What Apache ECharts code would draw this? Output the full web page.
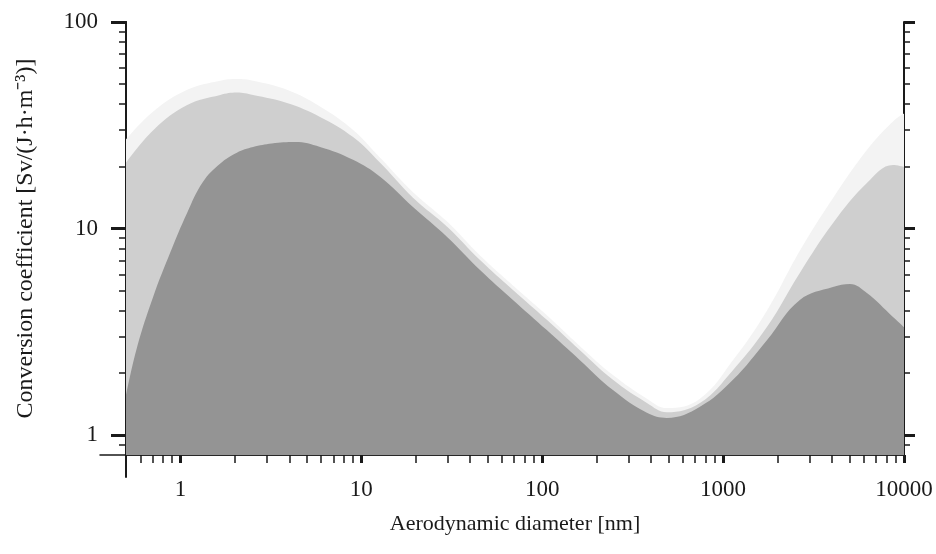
<!DOCTYPE html>
<html><head><meta charset="utf-8">
<script src="https://cdn.jsdelivr.net/npm/echarts@6.0.0/dist/echarts.min.js"></script>
<style>html,body{margin:0;padding:0;background:#fff}#c{width:936px;height:554px}</style>
</head><body><div id="c"></div>
<script>
// Faint halo above the light envelope
const haloDiameter = [0.5, 0.71, 1.09, 1.66, 2.05, 2.52, 3.88, 5.91, 9.0, 12.7, 19.3, 29.8, 45.3, 68.9, 106, 161, 246, 379, 489, 745, 1133, 1746, 2655, 4045, 6237, 8690, 10000];
const haloCoef     = [27, 37, 47, 52, 53, 52, 47, 39, 30, 22, 15, 10.8, 7.4, 5.3, 3.8, 2.7, 1.95, 1.5, 1.35, 1.5, 2.3, 4.0, 7.8, 14, 24, 33, 36];
// Light grey (upper) envelope
const upperDiameter = [0.5, 0.71, 1.09, 1.66, 2.05, 2.52, 3.88, 5.91, 9.0, 12.7, 19.3, 29.8, 45.3, 68.9, 106, 161, 246, 379, 489, 745, 1133, 1746, 2655, 4045, 6237, 8690, 10000];
const upperCoef     = [20.8, 30.0, 39.6, 44.3, 45.5, 44.3, 40.5, 34.7, 27.7, 20.8, 14.1, 10.2, 7.04, 5.04, 3.61, 2.58, 1.85, 1.43, 1.29, 1.43, 2.06, 3.33, 6.09, 10.6, 16.6, 20.3, 19.9];
// Dark grey (lower) envelope
const lowerDiameter = [0.5, 0.576, 0.706, 0.876, 1.088, 1.33, 1.655, 2.05, 2.52, 3.2, 4.3, 5.91, 9.0, 12.7, 19.3, 29.8, 45.3, 68.9, 106, 161, 246, 379, 489, 745, 1133, 1746, 2655, 4045, 5023, 6237, 8690, 10000];
const lowerCoef     = [1.56, 2.67, 4.66, 7.61, 11.9, 16.8, 20.6, 23.3, 24.8, 25.8, 26.2, 24.8, 21.5, 17.8, 12.7, 9.1, 6.30, 4.51, 3.22, 2.31, 1.65, 1.28, 1.21, 1.37, 1.85, 2.88, 4.51, 5.21, 5.39, 4.87, 3.73, 3.33];

const xMajorTicks = [1, 10, 100, 1000, 10000];
const xMinorTicks = [0.6, 0.7, 0.8, 0.9, 2, 3, 4, 5, 6, 7, 8, 9, 20, 30, 40, 50, 60, 70, 80, 90, 200, 300, 400, 500, 600, 700, 800, 900, 2000, 3000, 4000, 5000, 6000, 7000, 8000, 9000];
const yMajorTicks = [1, 10, 100];
const yMinorTicks = [0.9, 2, 3, 4, 5, 6, 7, 8, 9, 20, 30, 40, 50, 60, 70, 80, 90];

const xName = 'Aerodynamic diameter [nm]';
const yName = 'Conversion coefficient [Sv/(J·h·m⁻³)]';

const FONT = 'Liberation Serif';
const INK = '#1a1a1a';
const pairs = (xs, ys) => xs.map((x, i) => [x, ys[i]]);

const X_MIN = 0.5, X_MAX = 10000, Y_MIN = 0.8, Y_MAX = 100;

function baseX(extra) {
  return Object.assign({
    type: 'log', logBase: 10, min: X_MIN, max: X_MAX, gridIndex: 0, position: 'bottom',
    splitLine: { show: false }, minorTick: { show: false }, minorSplitLine: { show: false }
  }, extra);
}
function baseY(extra) {
  return Object.assign({
    type: 'log', logBase: 10, min: Y_MIN, max: Y_MAX, gridIndex: 0,
    splitLine: { show: false }, minorTick: { show: false }, minorSplitLine: { show: false }
  }, extra);
}

const chart = echarts.init(document.getElementById('c'), null, { renderer: 'canvas' });
const option = {
  backgroundColor: '#ffffff',
  animation: false,
  grid: [
    { left: 126, right: 32, top: 22, bottom: 99 },   // main plot
    { left: 100, right: 32, top: 22, bottom: 99 },   // x axis line extension to the left
    { left: 126, right: 32, top: 22, bottom: 77 }    // y axis line extension downward
  ],
  xAxis: [
    baseX({
      name: xName, nameLocation: 'middle', nameGap: 58,
      nameTextStyle: { fontFamily: FONT, fontSize: 22, color: INK },
      axisLine: { show: true, lineStyle: { color: INK, width: 1.5 } },
      axisTick: { show: true, inside: false, length: 8, customValues: xMajorTicks, lineStyle: { color: INK, width: 3 } },
      axisLabel: { show: true, customValues: xMajorTicks, margin: 23, fontFamily: FONT, fontSize: 23, color: INK,
                   formatter: v => String(Math.round(v)) }
    }),
    baseX({
      axisLine: { show: false },
      axisTick: { show: true, inside: false, length: 8, customValues: xMinorTicks, lineStyle: { color: INK, width: 1.5 } },
      axisLabel: { show: false }
    }),
    { type: 'value', gridIndex: 1, min: 0, max: 1, position: 'bottom',
      axisLine: { show: true, lineStyle: { color: INK, width: 1.5 } }, axisTick: { show: false }, axisLabel: { show: false }, splitLine: { show: false } },
    { type: 'value', gridIndex: 2, min: 0, max: 1, show: false }
  ],
  yAxis: [
    baseY({
      position: 'left',
      name: yName, nameLocation: 'middle', nameGap: 88, nameRotate: 90,
      nameTextStyle: { fontFamily: FONT, fontSize: 24, color: INK },
      axisLine: { show: true, lineStyle: { color: INK, width: 2 } },
      axisTick: { show: true, inside: false, length: 15, customValues: yMajorTicks, lineStyle: { color: INK, width: 3 } },
      axisLabel: { show: true, customValues: yMajorTicks, margin: 28, fontFamily: FONT, fontSize: 23, color: INK,
                   formatter: v => String(Math.round(v)) }
    }),
    baseY({
      position: 'left',
      axisLine: { show: false },
      axisTick: { show: true, inside: false, length: 7, customValues: yMinorTicks, lineStyle: { color: INK, width: 1.5 } },
      axisLabel: { show: false }
    }),
    baseY({
      position: 'right',
      axisLine: { show: true, lineStyle: { color: INK, width: 2 } },
      axisTick: { show: true, inside: false, length: 11, customValues: yMajorTicks, lineStyle: { color: INK, width: 3 } },
      axisLabel: { show: false }
    }),
    baseY({
      position: 'right',
      axisLine: { show: false },
      axisTick: { show: true, inside: false, length: 6, customValues: yMinorTicks, lineStyle: { color: INK, width: 1.5 } },
      axisLabel: { show: false }
    }),
    { type: 'value', gridIndex: 1, min: 0, max: 1, show: false },
    { type: 'value', gridIndex: 2, min: 0, max: 1, position: 'left',
      axisLine: { show: true, lineStyle: { color: INK, width: 2 } }, axisTick: { show: false }, axisLabel: { show: false }, splitLine: { show: false } }
  ],
  series: [
    { name: 'halo', type: 'line', xAxisIndex: 0, yAxisIndex: 0, data: pairs(haloDiameter, haloCoef),
      smooth: 0.4, showSymbol: false, symbol: 'none', lineStyle: { width: 0 },
      areaStyle: { color: '#f3f3f3', opacity: 1, origin: 'start' }, silent: true, z: 1 },
    { name: 'upper', type: 'line', xAxisIndex: 0, yAxisIndex: 0, data: pairs(upperDiameter, upperCoef),
      smooth: 0.4, showSymbol: false, symbol: 'none', lineStyle: { width: 0 },
      areaStyle: { color: '#cfcfcf', opacity: 1, origin: 'start' }, silent: true, z: 2 },
    { name: 'lower', type: 'line', xAxisIndex: 0, yAxisIndex: 0, data: pairs(lowerDiameter, lowerCoef),
      smooth: 0.4, showSymbol: false, symbol: 'none', lineStyle: { width: 0 },
      areaStyle: { color: '#949494', opacity: 1, origin: 'start' }, silent: true, z: 3 }
  ]
};
chart.setOption(option);
</script>
</body></html>
